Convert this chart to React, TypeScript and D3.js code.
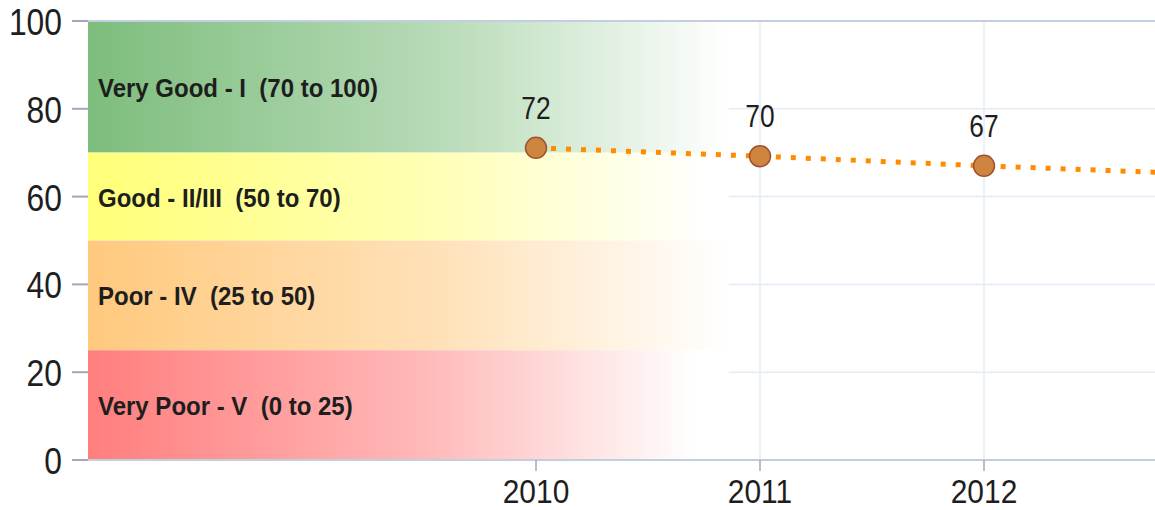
import React from 'react';
import * as d3 from 'd3';

// data
const years = [2010, 2011, 2012, 2013];
const scores = [71.1, 69.2, 67.0, 65.1];
const scoreLabels = ['72', '70', '67', '65'];
const yTicks = [0, 20, 40, 60, 80, 100];
const xTicks = [2010, 2011, 2012];
const bandNames = [
  'Very Good - I  (70 to 100)',
  'Good - II/III  (50 to 70)',
  'Poor - IV  (25 to 50)',
  'Very Poor - V  (0 to 25)',
];
const bandFrom = [70, 50, 25, 0];
const bandTo = [100, 70, 50, 25];
const bandColors = ['#7dbd7d', '#ffff78', '#ffc97e', '#ff7e7e'];
const bandFade = [1, 0.97, 1, 0.95];
const bandEndYear = 2010.86;
const xDomain = [2008, 2014];

const W = 1155;
const H = 510;
const margin = { top: 21, left: 88, bottom: 50 };
const pxPerYear = 224;
const font = "'Liberation Sans', Arial, sans-serif";

// narrow-looking text: Liberation Sans squeezed horizontally
function NText({ x, y, sx, anchor = 'start', size, bold = false, children }: any) {
  return (
    <text transform={`translate(${x},${y}) scale(${sx},1)`} textAnchor={anchor}
      fontFamily={font} fontSize={size} fontWeight={bold ? 'bold' : 'normal'}
      fill="#1e1e1e" style={{ whiteSpace: 'pre' }}>{children}</text>
  );
}

export default function App() {
  const x = d3.scaleLinear()
    .domain(xDomain)
    .range([margin.left, margin.left + (xDomain[1] - xDomain[0]) * pxPerYear]);
  const y = d3.scaleLinear().domain([0, 100]).range([H - margin.bottom, margin.top]);

  const pts = years.map((yr, i) => ({ yr, v: scores[i], label: scoreLabels[i] }));
  const line = d3.line<{ yr: number; v: number }>()
    .x(d => x(d.yr))
    .y(d => y(d.v));

  const bandRight = x(bandEndYear);
  // points past the right edge only shape the line
  const shown = pts.filter(p => x(p.yr) < W);

  return (
    <div style={{ position: 'absolute', left: 0, top: 0 }}>
      <svg width={W} height={H} style={{ display: 'block', background: '#fff' }}>
        <defs>
          {bandColors.map((c, i) => (
            <linearGradient key={i} id={`band${i}`} x1="0" x2="1" y1="0" y2="0">
              <stop offset="0" stopColor={c} stopOpacity={1} />
              <stop offset={bandFade[i] * 0.55} stopColor={c} stopOpacity={0.55} />
              <stop offset={bandFade[i]} stopColor={c} stopOpacity={0} />
            </linearGradient>
          ))}
          <clipPath id="plot">
            <rect x={margin.left} y={0} width={W - margin.left} height={H - margin.bottom + 1} />
          </clipPath>
        </defs>

        {/* grid */}
        {yTicks.map(t => (
          <line key={'gy' + t} x1={margin.left} x2={W} y1={y(t)} y2={y(t)} stroke="#e4edf7" strokeWidth={1.5} />
        ))}
        {xTicks.map(t => (
          <line key={'gx' + t} x1={x(t)} x2={x(t)} y1={y(100)} y2={y(0)} stroke="#e4edf7" strokeWidth={1.5} />
        ))}

        {/* quality bands */}
        {bandNames.map((name, i) => (
          <g key={name}>
            <rect x={margin.left} y={y(bandTo[i])} width={bandRight - margin.left}
              height={y(bandFrom[i]) - y(bandTo[i])} fill="#fff" />
            <rect x={margin.left} y={y(bandTo[i])} width={bandRight - margin.left}
              height={y(bandFrom[i]) - y(bandTo[i])} fill={`url(#band${i})`} />
            <NText x={margin.left + 10} y={(y(bandFrom[i]) + y(bandTo[i])) / 2 + 10}
              sx={0.96} size={25} bold>{name}</NText>
          </g>
        ))}

        {/* frame lines */}
        <line x1={margin.left} x2={W} y1={y(100)} y2={y(100)} stroke="#c2cfe0" strokeWidth={2} />
        <line x1={margin.left} x2={W} y1={y(0)} y2={y(0)} stroke="#c2cfe0" strokeWidth={2} />

        {/* y axis */}
        {yTicks.map(t => (
          <g key={'ty' + t}>
            <line x1={margin.left - 16} x2={margin.left} y1={y(t)} y2={y(t)} stroke="#a8a4bc" strokeWidth={2} />
            <NText x={margin.left - 26} y={y(t) + 14} anchor="end" sx={0.86} size={37}>{t}</NText>
          </g>
        ))}

        {/* x axis */}
        {xTicks.map(t => (
          <g key={'tx' + t}>
            <line x1={x(t)} x2={x(t)} y1={y(0)} y2={y(0) + 11} stroke="#a8a4bc" strokeWidth={1.5} />
            <NText x={x(t)} y={H - 7} anchor="middle" sx={0.88} size={34}>{t}</NText>
          </g>
        ))}

        {/* series */}
        <g clipPath="url(#plot)">
          <path d={line(pts) || ''} fill="none" stroke="#ff8c00" strokeWidth={5}
            strokeDasharray="5 10" />
          {shown.map(p => (
            <g key={p.yr}>
              <circle cx={x(p.yr)} cy={y(p.v)} r={10.5} fill="#cd853f" stroke="#a0522d" strokeWidth={1.5} />
              <NText x={x(p.yr)} y={y(p.v) - 29} anchor="middle" sx={0.85} size={31}>{p.label}</NText>
            </g>
          ))}
        </g>
      </svg>
    </div>
  );
}
